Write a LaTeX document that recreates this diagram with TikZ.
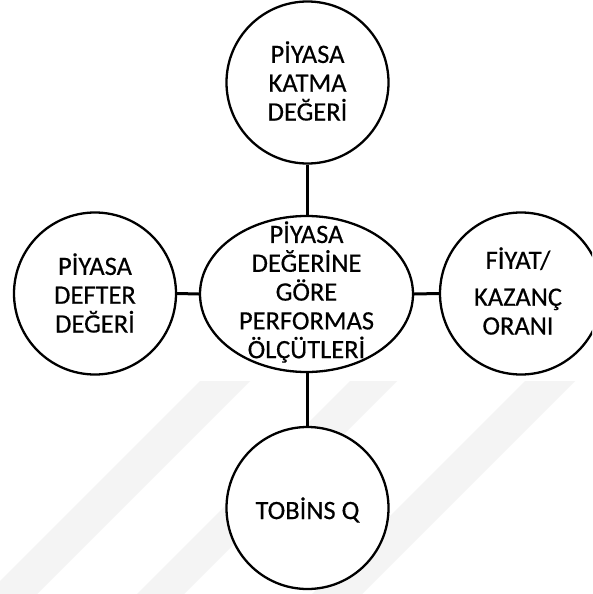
\documentclass[tikz,border=0pt]{standalone}
\usepackage{fontspec}
\setmainfont[FakeBold=0.4]{Carlito}
\usetikzlibrary{shapes.geometric}
\definecolor{wmgray}{HTML}{F4F4F4}
\begin{document}
\begin{tikzpicture}[x=1pt,y=-1pt,
  bubble/.style={circle,draw=black,line width=2.3pt,minimum size=162pt,inner sep=0pt},
  hub/.style={ellipse,draw=black,line width=2.3pt,minimum width=213pt,minimum height=156pt,inner sep=0pt},
  label/.style={align=center,font=\fontsize{26.5}{28.8}\selectfont,inner sep=0pt},
  link/.style={line width=3pt},
  band/.style={fill=wmgray,draw=none}]
\useasboundingbox (0,0) rectangle (592,594);
\clip (0,0) rectangle (592,594);
\fill[white] (0,0) rectangle (592,594);

% faint diagonal background bands
\fill[band] (200,381) -- (250,381) -- (37,594) -- (-13,594) -- cycle;
\fill[band] (350,381) -- (397,381) -- (184,594) -- (137,594) -- cycle;
\fill[band] (525,381) -- (575,381) -- (362,594) -- (312,594) -- cycle;

% central ellipse and the four surrounding circles
\node[hub,fill=white]    (hub)    at (306.5,294) {};
\node[bubble,fill=white] (top)    at (307.5,82.5) {};
\node[bubble,fill=white] (left)   at (95,293.5) {};
\node[bubble,fill=white] (right)  at (521,293.5) {};
\node[bubble,fill=white] (bottom) at (307.5,508) {};

% connectors
\draw[link] (top.south) -- (top.south |- hub.north);
\draw[link] (bottom.north) -- (bottom.north |- hub.south);
\draw[link] (left.east) -- (hub.west);
\draw[link] (hub.east) -- (right.west);

% texts
\node[label] (thub) at (306.5,292) {PİYASA\\DEĞERİNE\\GÖRE\\PERFORMAS\\ÖLÇÜTLERİ};
\node[label] (ttop) at (307.5,81) {PİYASA\\KATMA\\DEĞERİ};
\node[label] (tleft) at (95,293) {PİYASA\\DEFTER\\DEĞERİ};
\node[label] (tright) at (518,291) {FİYAT/\\[8pt]KAZANÇ\\ORANI};
\node[label] (tbottom) at (307.5,510) {TOBİNS Q};
\end{tikzpicture}
\end{document}
